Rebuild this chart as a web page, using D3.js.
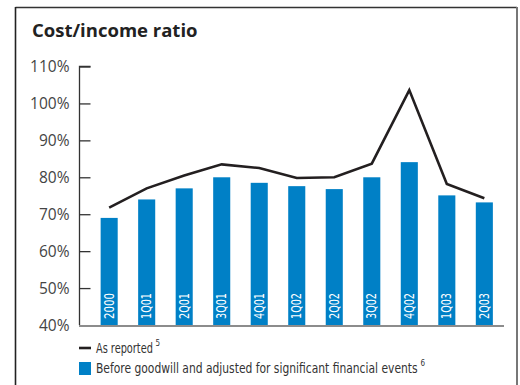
<!DOCTYPE html>
<html>
<head>
<meta charset="utf-8">
<script src="https://cdn.jsdelivr.net/npm/d3@7"></script>
<style>
  html, body { margin: 0; padding: 0; background: #fff; }
  svg { display: block; }
  .cond { font-family: "DejaVu Sans Condensed", "Liberation Sans Narrow", "Roboto", sans-serif; font-stretch: condensed; }
</style>
</head>
<body>
<svg id="chart" width="520" height="385"></svg>
<script>
// Periods shown on the category axis
const periods = ["2000", "1Q01", "2Q01", "3Q01", "4Q01", "1Q02", "2Q02", "3Q02", "4Q02", "1Q03", "2Q03"];
// Cost/income ratio, as reported (%)
const asReported = [71.8, 77.0, 80.5, 83.5, 82.5, 79.8, 80.0, 83.7, 103.6, 78.2, 74.3];
// Cost/income ratio before goodwill, adjusted for significant financial events (%)
const adjusted = [69, 74, 77, 80, 78.5, 77.6, 76.8, 80, 84.1, 75.1, 73.2];
// Value-axis ticks (%)
const yTicks = [40, 50, 60, 70, 80, 90, 100, 110];

const svg = d3.select("#chart");
const blue = "#0080c6";

// Panel frame: top, left and right edges
svg.append("line").attr("x1", 15.5).attr("x2", 517).attr("y1", 7.5).attr("y2", 7.5)
  .attr("stroke", "#333").attr("stroke-width", 1.5);
svg.append("line").attr("x1", 15.5).attr("x2", 15.5).attr("y1", 7).attr("y2", 385)
  .attr("stroke", "#222").attr("stroke-width", 1.6);
svg.append("line").attr("x1", 517).attr("x2", 517).attr("y1", 7).attr("y2", 385)
  .attr("stroke", "#777").attr("stroke-width", 2);

// Title
svg.append("text").attr("x", 32).attr("y", 37)
  .attr("font-family", "'Open Sans', 'Noto Sans', sans-serif")
  .attr("font-weight", 700).attr("font-size", 18.5).attr("fill", "#222")
  .text("Cost/income ratio");

const y = d3.scaleLinear().domain([40, 110]).range([325, 66.5]);
const x = d3.scaleBand().domain(periods).range([90.5, 503]).paddingInner(0.545).paddingOuter(0.27);

// Value axis: line with ticks pointing into the plot
const yAxis = d3.axisRight(y).tickValues(yTicks).tickSize(11).tickFormat(d => d + "%").tickPadding(0);
const gy = svg.append("g").attr("transform", "translate(79.5,0)").call(yAxis);
gy.select(".domain").attr("d", `M11,${y(110)}H0V${y(40)}`).attr("stroke", "#333").attr("stroke-width", 1.3);
gy.selectAll(".tick line").attr("stroke", "#333").attr("stroke-width", 1.3);
gy.selectAll(".tick text")
  .attr("x", -10).attr("dy", "0.35em").attr("text-anchor", "end")
  .attr("font-family", "'Open Sans', 'Noto Sans', sans-serif").attr("font-weight", 400)
  .attr("font-size", 15.5).attr("fill", "#444");
gy.selectAll(".tick").filter(d => d === 40).select("line").remove();

// Bars
svg.append("g").selectAll("rect").data(adjusted).join("rect")
  .attr("x", (d, i) => x(periods[i]))
  .attr("width", x.bandwidth())
  .attr("y", d => y(d))
  .attr("height", d => y(40) - y(d))
  .attr("fill", blue);

// Category axis baseline
svg.append("line").attr("x1", 79).attr("x2", 504).attr("y1", 326).attr("y2", 326)
  .attr("stroke", "#666").attr("stroke-width", 1.6);

// Period labels written vertically inside the bars
svg.append("g").selectAll("text").data(periods).join("text")
  .attr("class", "cond")
  .attr("transform", d => `translate(${x(d) + x.bandwidth() / 2 + 4.5},319) rotate(-90)`)
  .attr("font-size", 13.5).attr("font-weight", 400).attr("fill", "#fff")
  .attr("textLength", 26).attr("lengthAdjust", "spacingAndGlyphs")
  .text(d => d);

// As-reported line
const line = d3.line().x((d, i) => x(periods[i]) + x.bandwidth() / 2).y(d => y(d));
svg.append("path").datum(asReported).attr("d", line)
  .attr("fill", "none").attr("stroke", "#231f20").attr("stroke-width", 2.6).attr("stroke-linejoin", "miter");

// Legend: condensed labels squeezed horizontally to a set width, then a footnote mark
const lg = svg.append("g").attr("class", "cond").attr("fill", "#333");
function legendLabel(label, note, x0, yBase, width) {
  const g = lg.append("g");
  const t = g.append("text").attr("font-size", 14.5).text(label);
  const sx = width / t.node().getComputedTextLength();
  g.attr("transform", `translate(${x0},${yBase}) scale(${sx},1)`);
  lg.append("text").attr("x", x0 + width + 2.5).attr("y", yBase - 7).attr("font-size", 8).text(note);
}
lg.append("line").attr("x1", 79).attr("x2", 91).attr("y1", 348).attr("y2", 348)
  .attr("stroke", "#231f20").attr("stroke-width", 2.6);
legendLabel("As reported", "5", 96, 353, 57);
lg.append("rect").attr("x", 79).attr("y", 362).attr("width", 12).attr("height", 13).attr("fill", blue);
legendLabel("Before goodwill and adjusted for significant financial events", "6", 96, 373, 322);
</script>
</body>
</html>
